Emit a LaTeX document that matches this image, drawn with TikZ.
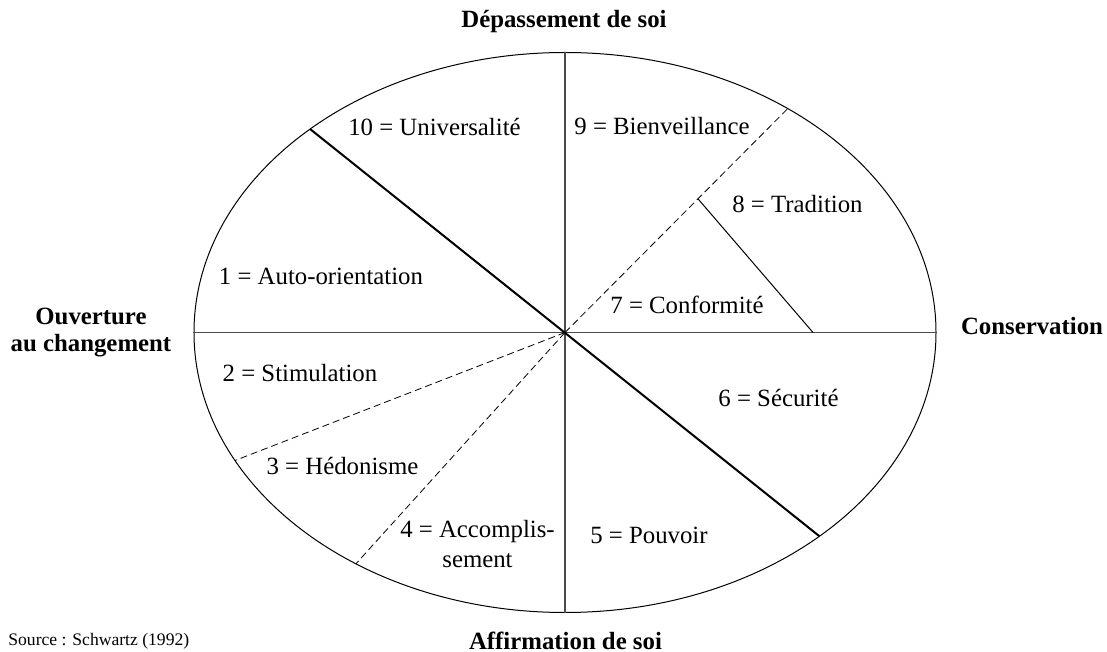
\documentclass[tikz,border=0pt]{standalone}
\usepackage{fontspec}
\setmainfont{Liberation Serif}
\usepackage{tikz}
\usetikzlibrary{positioning}
\usetikzlibrary{calc}
\tikzstyle{value}=[font=\fontsize{12.4}{15}\selectfont, inner sep=0pt, anchor=base]
\tikzstyle{pole}=[font=\fontsize{12.4}{13.5}\selectfont\bfseries, inner sep=0pt, align=center]
\tikzstyle{rim}=[line width=0.5pt]
\tikzstyle{axis}=[line width=0.65pt, draw=black!70]
\tikzstyle{split}=[line width=1pt]
\tikzstyle{subsplit}=[line width=0.4pt, dash pattern=on 3.5pt off 2pt]

\begin{document}
\begin{tikzpicture}[x=0.5pt, y=0.5pt]
	
	\useasboundingbox (-565,-319.5) rectangle (542,332.5);
	
	\coordinate (c) at (0,0);
	\coordinate (top) at (90:185.5pt and 140pt);
	\coordinate (bot) at (270:185.5pt and 140pt);
	\coordinate (west) at (180:185.5pt and 140pt);
	\coordinate (east) at (0:185.5pt and 140pt);
	\coordinate (nw) at (133.4:185.5pt and 140pt);
	\coordinate (se) at (-46.7:185.5pt and 140pt);
	\coordinate (ne) at (53.1:185.5pt and 140pt);
	\coordinate (wsw) at (207.2:185.5pt and 140pt);
	\coordinate (ssw) at (235.7:185.5pt and 140pt);
	\coordinate (kink) at ($(c)!0.597!(ne)$);
	\coordinate (foot) at (248,0);
	
	\draw [rim] (c) ellipse [x radius=185.5pt, y radius=140pt];
	\draw [axis] (west) -- (east);
	\draw [axis] (top) -- (bot);
	\draw [split] (nw) -- (se);
	\draw [subsplit] (c) -- (ne);
	\draw [subsplit] (c) -- (wsw);
	\draw [subsplit] (c) -- (ssw);
	\draw [rim] (kink) -- (foot);
	
	\node (univ) [value] at (-130.5,196.5) {10 = Universalité};
	\node (bien) [value] at (97,197.5) {9 = Bienveillance};
	\node (trad) [value] at (232.5,119.5) {8 = Tradition};
	\node (conf) [value] at (122,18.5) {7 = Conformité};
	\node (auto) [value] at (-244,47.5) {1 = Auto-orientation};
	\node (stim) [value] at (-265,-49) {2 = Stimulation};
	\node (hedo) [value] at (-222.5,-141.5) {3 = Hédonisme};
	\node (accp) [value, anchor=center, align=center] at (-87.5,-212) {4 = Accomplis-\\sement};
	\node (pouv) [value] at (84,-210.5) {5 = Pouvoir};
	\node (secu) [value] at (213.5,-74.5) {6 = Sécurité};
	
	\node (depas) [pole, anchor=base] at (-1,304.5) {Dépassement de soi};
	\node (affir) [pole, anchor=base] at (0.5,-316.5) {Affirmation de soi};
	\node (cons) [pole, anchor=base] at (467,-2.5) {Conservation};
	\node (ouv) [pole] at (-474,0) {Ouverture\\au changement};
	\node (src) [font=\fontsize{8.8}{10}\selectfont, inner sep=0pt, anchor=base west] at (-557,-312.5) {Source : Schwartz (1992)};
\end{tikzpicture}
\end{document}
